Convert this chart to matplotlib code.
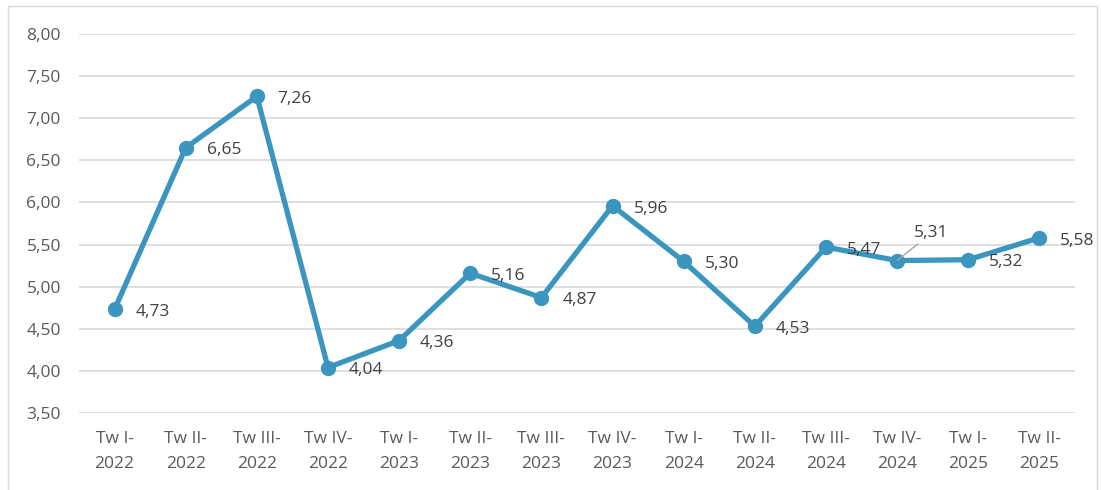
import matplotlib
matplotlib.use("Agg")
import matplotlib.pyplot as plt
from matplotlib.patches import Rectangle

plt.rcParams.update({
    "font.family": ["Open Sans", "DejaVu Sans"],
    "font.size": 12.5,
})

quarters = ["Tw I-\n2022", "Tw II-\n2022", "Tw III-\n2022", "Tw IV-\n2022",
            "Tw I-\n2023", "Tw II-\n2023", "Tw III-\n2023", "Tw IV-\n2023",
            "Tw I-\n2024", "Tw II-\n2024", "Tw III-\n2024", "Tw IV-\n2024",
            "Tw I-\n2025", "Tw II-\n2025"]
values = [4.73, 6.65, 7.26, 4.04, 4.36, 5.16, 4.87, 5.96, 5.30, 4.53,
          5.47, 5.31, 5.32, 5.58]
y_ticks = [3.5, 4.0, 4.5, 5.0, 5.5, 6.0, 6.5, 7.0, 7.5, 8.0]

LINE = "#3A95BF"
TXT = "#595959"
LBL = "#404040"
GRID = "#D9D9D9"
FS = 12.5

fig = plt.figure(figsize=(11.01, 4.90), dpi=100)
fig.patches.append(Rectangle((8 / 1101, -0.02), 1 - 12 / 1101, 1.02 - 6 / 490,
                             transform=fig.transFigure, fill=False,
                             edgecolor=GRID, linewidth=1.0))
ax = fig.add_axes([79 / 1101, 1 - 413 / 490, (1075 - 79) / 1101, (413 - 34) / 490])

x = list(range(len(values)))
ax.plot(x, values, color=LINE, linewidth=3.8, marker="o", markersize=10,
        solid_joinstyle="round", zorder=3)

for xi, v in zip(x, values):
    lbl = f"{v:.2f}".replace(".", ",")
    if xi == 11:
        ax.annotate(lbl, (xi, v), xytext=(12, 14), textcoords="offset points",
                    ha="left", va="bottom", color=LBL, fontsize=FS,
                    arrowprops=dict(arrowstyle="-", color="#A6A6A6", lw=1.0,
                                    shrinkA=0, shrinkB=0))
    else:
        ax.annotate(lbl, (xi, v), xytext=(15, -2), textcoords="offset points",
                    ha="left", va="center", color=LBL, fontsize=FS)

ax.set_xlim(-0.5, len(values) - 0.5)
ax.set_ylim(3.5, 8.0)
ax.set_yticks(y_ticks)
ax.set_yticklabels([f"{t:.2f}".replace(".", ",") for t in y_ticks])
ax.set_xticks(x)
ax.set_xticklabels(quarters, linespacing=1.75)
ax.tick_params(axis="both", length=0, colors=TXT, labelsize=FS)
ax.tick_params(axis="y", pad=13)
ax.tick_params(axis="x", pad=13)
ax.grid(axis="y", color=GRID, linewidth=1.2)
ax.set_axisbelow(True)
for s in ax.spines.values():
    s.set_visible(False)

fig.savefig("out.png", dpi=100, facecolor="white")
